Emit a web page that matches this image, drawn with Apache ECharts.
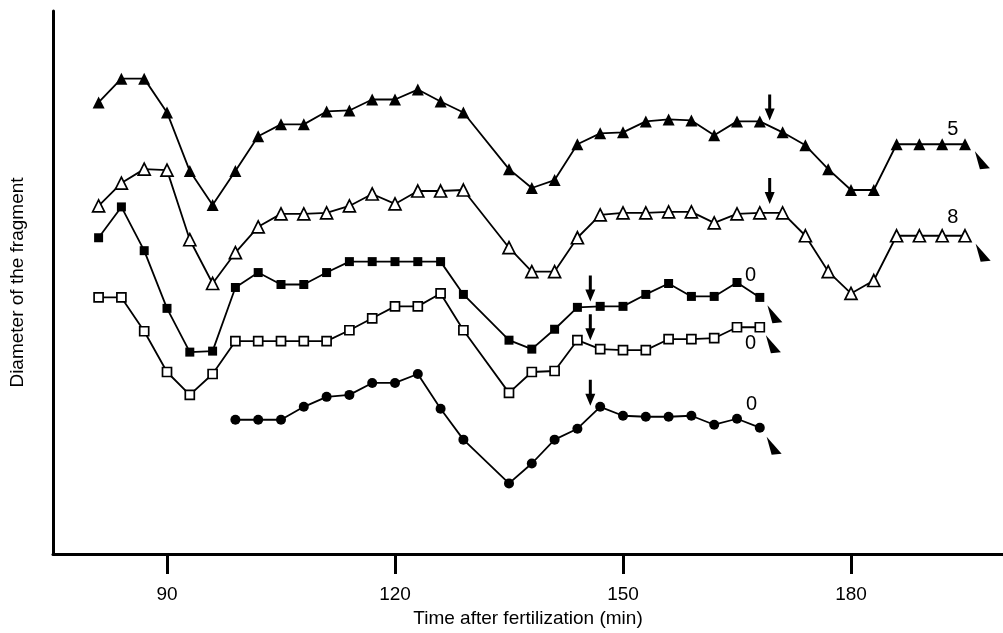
<!DOCTYPE html>
<html>
<head>
<meta charset="utf-8">
<script src="https://cdn.jsdelivr.net/npm/echarts@6/dist/echarts.min.js"></script>
<style>
  html, body { margin: 0; padding: 0; background: #fff; }
  #chart { width: 1003px; height: 633px; }
</style>
</head>
<body>
<div id="chart"></div>
<script>
// sampling times (min), no reading at 132
const timesLong = [81, 84, 87, 90, 93, 96, 99, 102, 105, 108, 111, 114, 117, 120, 123, 126, 129,
  135, 138, 141, 144, 147, 150, 153, 156, 159, 162, 165, 168, 171, 174, 177, 180, 183, 186, 189, 192, 195];
const timesShort = timesLong.slice(0, 29);   // 81 .. 168
const timesCircle = timesLong.slice(6, 29);  // 99 .. 168

// diameter, arbitrary units (curves are offset vertically)
const filledTriangle = [454, 478, 478, 444, 385, 351, 385, 420, 432, 432, 445, 446, 457, 457, 467, 455, 444,
  387, 368, 376, 412, 423, 424, 435, 437, 436, 421, 435, 435, 424, 411, 387, 366, 366, 412, 412, 412, 412];
const openTriangle = [350, 373, 387, 386, 316, 272, 303, 329, 342, 342, 343, 350, 362, 352, 365, 365, 366,
  308, 284, 284, 318, 341, 343, 343, 344, 344, 333, 342, 343, 343, 320, 284, 262, 275, 320, 320, 320, 320];
const filledSquare = [318, 349, 305, 247, 203, 204, 268, 283, 271, 271, 283, 294, 294, 294, 294, 294, 261,
  215, 206, 226, 248, 249, 249, 261, 272, 259, 259, 273, 258];
const openSquare = [258, 258, 224, 183, 160, 181, 214, 214, 214, 214, 214, 225, 237, 249, 249, 262, 225,
  162, 183, 184, 215, 206, 205, 205, 216, 216, 217, 228, 228];
const filledCircle = [135, 135, 135, 148, 158, 160, 172, 172, 181, 146, 115,
  71, 91, 115, 126, 148, 139, 138, 138, 139, 130, 136, 127];

// x ticks
const xTicks = [90, 120, 150, 180];

// annotations: down arrows, end wedges, counts
const arrowTimes = [169.3, 169.3, 145.7, 145.7, 145.7];
const arrowTips = [436, 352, 254, 215, 149];
const wedgeTimes = [196.3, 196.4, 169.0, 168.8, 168.9];
const wedgeTips = [405, 312, 250, 220, 118];
const countLabels = ["5", "8", "0", "0", "0"];
const countTimes = [193.4, 193.4, 166.8, 166.8, 166.9];
const countValues = [427, 338, 280, 212, 150];

function zip(xs, ys) {
  return xs.map((x, i) => [x, ys[i]]);
}

function curve(name, times, values, symbol, size, open) {
  return {
    name: name,
    type: "line",
    data: zip(times, values),
    symbol: symbol,
    symbolSize: size,
    showAllSymbol: true,
    lineStyle: { color: "#000", width: 1.8 },
    itemStyle: open
      ? { color: "#fff", borderColor: "#000", borderWidth: 1.7, opacity: 1 }
      : { color: "#000", borderColor: "#000", borderWidth: 0, opacity: 1 },
    z: 3,
  };
}

const font = "'Liberation Sans', Arial, Helvetica, sans-serif";

let myChart = echarts.init(document.getElementById("chart"));
myChart.setOption({
  animation: false,
  backgroundColor: "#fff",
  grid: { left: 53, right: 0, top: 11, bottom: 76 },
  xAxis: {
    type: "value",
    min: 75,
    max: 200,
    splitLine: { show: false },
    axisLine: { show: true, onZero: false, lineStyle: { color: "#000", width: 3 } },
    axisTick: { show: true, customValues: xTicks, length: 20, lineStyle: { color: "#000", width: 3 } },
    axisLabel: { customValues: xTicks, margin: 31, color: "#000", fontSize: 19, fontFamily: font },
    name: "Time after fertilization (min)",
    nameLocation: "middle",
    nameGap: 55,
    nameTextStyle: { color: "#000", fontSize: 19, fontFamily: font },
  },
  yAxis: {
    type: "value",
    min: 0,
    max: 546,
    splitLine: { show: false },
    axisLine: { show: true, onZero: false, lineStyle: { color: "#000", width: 3 } },
    axisTick: { show: false },
    axisLabel: { show: false },
    name: "Diameter of the fragment",
    nameLocation: "middle",
    nameRotate: 90,
    nameGap: 26,
    nameTextStyle: { color: "#000", fontSize: 19, fontFamily: font },
  },
  series: [
    curve("5", timesLong, filledTriangle, "triangle", 12, false),
    curve("8", timesLong, openTriangle, "triangle", 12, true),
    curve("0a", timesShort, filledSquare, "rect", 9, false),
    curve("0b", timesShort, openSquare, "rect", 9, true),
    curve("0c", timesCircle, filledCircle, "circle", 10, false),
    {
      name: "arrows",
      type: "scatter",
      data: zip(arrowTimes, arrowTips),
      symbol: "path://M3.5,0 L6.5,0 L6.5,14 L10,14 L5,26 L0,14 L3.5,14 Z",
      symbolSize: [10, 26],
      symbolOffset: [0, -13],
      itemStyle: { color: "#000", opacity: 1 },
      z: 4,
    },
    {
      name: "wedges",
      type: "scatter",
      data: zip(wedgeTimes, wedgeTips),
      symbol: "path://M0,0 L15,17 L5,18 Z",
      symbolSize: [15, 18],
      symbolOffset: [7.5, 9],
      itemStyle: { color: "#000", opacity: 1 },
      z: 4,
    },
    {
      name: "counts",
      type: "scatter",
      data: countTimes.map((t, i) => ({ value: [t, countValues[i]], name: countLabels[i] })),
      symbolSize: 0,
      itemStyle: { opacity: 1 },
      label: {
        show: true,
        position: "inside",
        formatter: (p) => p.name,
        color: "#000",
        opacity: 1,
        fontSize: 20,
        fontFamily: font,
      },
      z: 5,
    },
  ],
});
</script>
</body>
</html>
